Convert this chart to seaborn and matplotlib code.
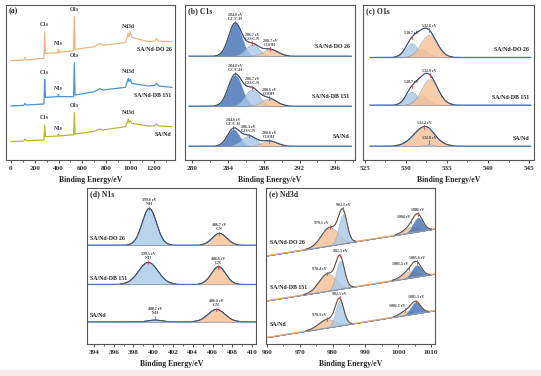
import numpy as np
import matplotlib
matplotlib.use("Agg")
import matplotlib.pyplot as plt
from matplotlib.patches import Rectangle
from matplotlib.ticker import MultipleLocator
import seaborn as sns

SAMPLES = ["SA/Nd-DO 26", "SA/Nd-DB 151", "SA/Nd"]

# (a) survey spectra (arbitrary units, already stacked)
SURVEY_EV = [0, 110, 120, 130, 278, 284, 290, 395, 400, 405, 526, 532, 538, 700, 745, 770,
             960, 978, 984, 990, 1000, 1012, 1150, 1205, 1220, 1240, 1350]
SURVEY_DO26 = [298, 300, 308, 300, 305, 385, 320, 322, 332, 323, 328, 430, 332, 340, 350, 344,
               352, 372, 380, 370, 385, 368, 355, 357, 365, 356, 355]
SURVEY_DB151 = [162, 164, 170, 165, 168, 242, 188, 190, 196, 190, 190, 292, 195, 205, 214, 210,
                218, 238, 245, 235, 242, 230, 222, 224, 230, 222, 218]
SURVEY_SAND = [55, 57, 63, 58, 60, 105, 70, 72, 78, 72, 76, 142, 78, 86, 93, 90,
               100, 115, 122, 112, 118, 110, 102, 103, 108, 102, 100]
SURVEY_LINES = ["C1s", "N1s", "O1s", "Nd3d"]
SURVEY_LINE_EV = [284, 400, 532, 984]

# (b) C1s fit: centre (eV), height, FWHM (eV) for each sample
C1S_BASE = [312, 162, 42]
C1S_CENTER = [[284.8, 286.7, 288.7], [284.8, 286.7, 288.6], [284.6, 286.3, 288.6]]
C1S_HEIGHT = [[98, 35, 20], [93, 50, 22], [50, 30, 15]]
C1S_FWHM = [[1.7, 1.8, 2.0], [1.8, 1.9, 2.0], [1.6, 2.0, 2.0]]
C1S_BONDS = ["C-C/C-H", "C-O/C-N", "COOH"]

# (c) O1s fit
O1S_BASE = [308, 165, 42]
O1S_CENTER = [[530.7, 531.9, 532.8], [530.7, 531.9, 532.9], [532.2, 532.8]]
O1S_HEIGHT = [[42, 25, 68], [40, 28, 78], [55, 5]]
O1S_FWHM = [[1.8, 2.0, 2.4], [1.7, 1.9, 2.4], [3.0, 1.5]]
O1S_TAGGED = [[True, False, True], [True, False, True], [True, True]]

# (d) N1s fit
N1S_BASE = [297, 179, 67]
N1S_CENTER = [[399.6, 406.7], [399.5, 406.6], [400.2, 406.4]]
N1S_HEIGHT = [[110, 35], [66, 53], [5, 37]]
N1S_FWHM = [[1.7, 1.7], [2.3, 1.7], [1.5, 2.0]]
N1S_BONDS = ["N-H", "C-N"]

# (e) Nd3d fit, linear background read at 960 eV and 1011 eV
ND_BG_LEFT = [265, 130, 20]
ND_BG_RIGHT = [345, 210, 100]
ND_CENTER = [[979.1, 983.1, 1004, 1006], [978.4, 982.3, 1003.3, 1005.6], [978.3, 982.1, 1002.2, 1005.3]]
ND_HEIGHT = [[55, 88, 18, 42], [52, 85, 20, 35], [25, 75, 12, 35]]
ND_FWHM = [[6.0, 3.0, 5.0, 3.5], [6.0, 3.0, 5.0, 3.5], [6.0, 3.0, 4.0, 3.5]]

W, H = 541, 376
FONT = ["Liberation Serif", "DejaVu Serif"]
DARK = "#3f6fb3"
LIGHT = "#a9c8e8"
ORANGE = "#f4c193"
GRAY = "#bfc2cc"
RAW = "#3c6cc0"
ENV = "#4a505c"


def gauss(x, c, h, w):
    return h * np.exp(-4 * np.log(2) * (x - c) ** 2 / w ** 2)


def make_axes(fig, box, xlim, ylim, major, minor, title):
    l, t, r, b = box
    ax = fig.add_axes([l / W, 1 - b / H, (r - l) / W, (b - t) / H])
    ax.set_xlim(*xlim)
    ax.set_ylim(*ylim)
    ax.set_yticks([])
    ax.xaxis.set_major_locator(MultipleLocator(major))
    ax.xaxis.set_minor_locator(MultipleLocator(minor))
    ax.tick_params(axis="x", which="major", length=2, width=0.6, pad=2, labelsize=5.2, colors="#333333")
    ax.tick_params(axis="x", which="minor", length=1.2, width=0.5)
    for lab in ax.get_xticklabels():
        lab.set_family(FONT)
        lab.set_fontweight("bold")
    for sp in ax.spines.values():
        sp.set_color("#555555")
        sp.set_linewidth(0.8)
        sp.set_visible(True)
    ax.set_xlabel("Binding Energy/eV", family=FONT, fontweight="bold", fontsize=5.6, labelpad=4)
    ax.text(0.015, 0.985, title, transform=ax.transAxes, ha="left", va="top",
            family=FONT, fontweight="bold", fontsize=5.6)
    return ax


def draw_fit(ax, grid, bg, centers, heights, widths, colors, tags, tag_ha=None, raw=RAW):
    comps = [gauss(grid, c, h, w) for c, h, w in zip(centers, heights, widths)]
    total = np.sum(comps, axis=0)
    env = bg + total
    for comp, col in zip(comps, colors):
        ax.fill_between(grid, bg, bg + comp, color=col, alpha=0.8, linewidth=0.3, edgecolor="#7f8fa8")
    sns.lineplot(x=grid, y=env, ax=ax, color=raw, linewidth=0.7)
    fit = np.where(total > 1.0, env, np.nan)
    ax.plot(grid, fit, color=ENV, linewidth=0.7)
    for i, (c, h, tag) in enumerate(zip(centers, heights, tags)):
        if not tag:
            continue
        k = np.argmin(np.abs(grid - c))
        if h < 12:
            y = bg[k] + h + 14
        else:
            y = env[k] + 6
        ha = "center" if tag_ha is None else tag_ha[i]
        dx = 0 if ha == "center" else -0.004 * (grid[-1] - grid[0])
        ax.plot([c, c], [y - 12, y - 1], color="#e0404a", linewidth=0.6)
        ax.text(c + dx, y, tag, ha=ha, va="bottom", family=FONT, fontweight="bold",
                fontsize=2.8, linespacing=1.0, color="#333333")


def sample_label(ax, x, y, text, ha):
    ax.text(x, y, text, ha=ha, va="center", family=FONT, fontweight="bold", fontsize=4.2, color="#222222")


def PlotXPS():
    sns.set_theme(style="ticks")
    plt.rcParams["font.family"] = FONT
    fig = plt.figure(figsize=(W / 100, H / 100), dpi=100)
    fig.patches.append(Rectangle((0, 0), 1, 6 / H, transform=fig.transFigure, color="#f5ece8", zorder=-1))

    # (a) survey
    ax = make_axes(fig, (6, 5, 175, 160), (-40, 1375), (0, 465), 200, 100, "(a)")
    survey = [SURVEY_DO26, SURVEY_DB151, SURVEY_SAND]
    colors = ["#f2b47c", "#4b92d6", "#b8b82e"]
    for vals, col, name in zip(survey, colors, SAMPLES):
        sns.lineplot(x=SURVEY_EV, y=vals, ax=ax, color=col, linewidth=0.9)
        for line, ev in zip(SURVEY_LINES, SURVEY_LINE_EV):
            yv = vals[int(np.argmin(np.abs(np.array(SURVEY_EV) - ev)))]
            off = 14 if line != "N1s" else 10
            ax.text(ev, min(yv + off, 452), line, ha="center", va="bottom", family=FONT,
                    fontweight="bold", fontsize=4.0, color="#333333")
        sample_label(ax, 1345, vals[-1] - 24, name, "right")

    # (b) C1s
    ax = make_axes(fig, (185, 5, 355, 160), (279.2, 298.2), (0, 465), 4, 2, "(b) C1s")
    grid = np.linspace(279.6, 297.8, 500)
    for i, name in enumerate(SAMPLES):
        bg = np.full_like(grid, C1S_BASE[i])
        tags = [f"{c} eV\n{b}" for c, b in zip(C1S_CENTER[i], C1S_BONDS)]
        draw_fit(ax, grid, bg, C1S_CENTER[i], C1S_HEIGHT[i], C1S_FWHM[i], [DARK, LIGHT, ORANGE], tags)
        sample_label(ax, 297.6, C1S_BASE[i] + 28, name, "right")

    # (c) O1s
    ax = make_axes(fig, (363, 5, 534, 160), (524.8, 545.6), (0, 465), 5, 2.5, "(c) O1s")
    grid = np.linspace(525.6, 545.2, 500)
    for i, name in enumerate(SAMPLES):
        bg = np.full_like(grid, O1S_BASE[i])
        tags = [f"{c} eV" if t else "" for c, t in zip(O1S_CENTER[i], O1S_TAGGED[i])]
        cols = [LIGHT, GRAY, ORANGE] if len(O1S_CENTER[i]) == 3 else [ORANGE, GRAY]
        draw_fit(ax, grid, bg, O1S_CENTER[i], O1S_HEIGHT[i], O1S_FWHM[i], cols, tags)
        sample_label(ax, 545.0, O1S_BASE[i] + 22, name, "right")

    # (d) N1s
    ax = make_axes(fig, (87, 188, 256, 344), (393.3, 410.4), (0, 468), 2, 1, "(d) N1s")
    grid = np.linspace(393.3, 410.4, 500)
    for i, name in enumerate(SAMPLES):
        bg = np.full_like(grid, N1S_BASE[i])
        tags = [f"{c} eV\n{b}" for c, b in zip(N1S_CENTER[i], N1S_BONDS)]
        draw_fit(ax, grid, bg, N1S_CENTER[i], N1S_HEIGHT[i], N1S_FWHM[i], [LIGHT, ORANGE], tags)
        sample_label(ax, 393.6, N1S_BASE[i] + 18, name, "left")

    # (e) Nd3d
    ax = make_axes(fig, (266, 188, 435, 344), (959.7, 1011.2), (0, 468), 10, 5, "(e) Nd3d")
    grid = np.linspace(960, 1011, 600)
    for i, name in enumerate(SAMPLES):
        slope = (ND_BG_RIGHT[i] - ND_BG_LEFT[i]) / (1011 - 960)
        bg = ND_BG_LEFT[i] + slope * (grid - 960)
        tags = [f"{c:g} eV" for c in ND_CENTER[i]]
        ax.plot(grid, bg, color="#9aa3b5", linewidth=0.5)
        draw_fit(ax, grid, bg, ND_CENTER[i], ND_HEIGHT[i], ND_FWHM[i], [ORANGE, LIGHT, ORANGE, DARK],
                 tags, tag_ha=["right", "center", "right", "center"], raw="#eea866")
        sample_label(ax, 960.8, ND_BG_LEFT[i] + 40, name, "left")

    fig.savefig("out.png", dpi=100)


def main():
    PlotXPS()


if __name__ == "__main__":
    main()
